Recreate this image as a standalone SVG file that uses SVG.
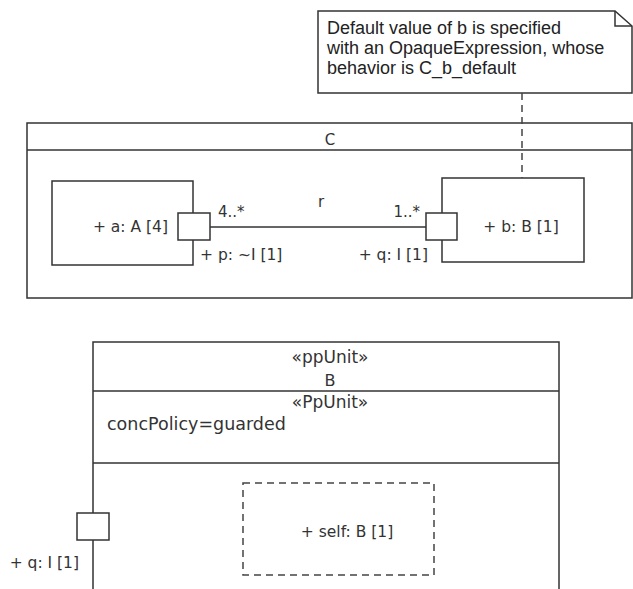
<svg xmlns="http://www.w3.org/2000/svg" width="633" height="589" viewBox="0 0 633 589">
<style>
.ln{fill:none;stroke:#333;stroke-width:1.5}
.bx{fill:#fff;stroke:#333;stroke-width:1.5}
.ds{fill:none;stroke:#444;stroke-width:1.5;stroke-dasharray:7,5}
.t{font-family:"DejaVu Sans",sans-serif;fill:#333}
.n{font-family:"Liberation Sans",Arial,sans-serif;font-size:18px;fill:#222}
</style>
<rect width="633" height="589" fill="#fff"/>
<g id="note">
<path class="bx" d="M318,11 H615 L632,26 V93 H318 Z"/>
<path class="ln" d="M615,11 V26 H632"/>
<text class="n" x="327" y="34">Default value of b is specified</text>
<text class="n" x="327" y="54">with an OpaqueExpression, whose</text>
<text class="n" x="327" y="74">behavior is C_b_default</text>
</g>
<g id="C">
<rect class="bx" x="27" y="123" width="605" height="175"/>
<line class="ln" x1="27" y1="150" x2="632" y2="150"/>
<text class="t" x="330" y="145" font-size="15" text-anchor="middle">C</text>
</g>
<g id="part-a">
<rect class="bx" x="52" y="181" width="141" height="84"/>
<text class="t" x="168" y="232" font-size="15.5" text-anchor="end">+ a: A [4]</text>
</g>
<g id="part-b">
<rect class="bx" x="442" y="178" width="142" height="84"/>
<text class="t" x="521" y="232" font-size="15.5" text-anchor="middle">+ b: B [1]</text>
</g>
<g id="connectors">
<line class="ln" x1="210" y1="227" x2="426" y2="227"/>
<line class="ds" x1="522" y1="93" x2="522" y2="178"/>
<line class="ln" x1="109" y1="527" x2="243" y2="527"/>
<text class="t" x="218" y="217" font-size="15">4..*</text>
<text class="t" x="318" y="207" font-size="15">r</text>
<text class="t" x="420" y="217" font-size="15" text-anchor="end">1..*</text>
</g>
<g id="port-p">
<rect class="bx" x="178" y="213" width="32" height="27"/>
<text class="t" x="200" y="260" font-size="15.5">+ p: ~I [1]</text>
</g>
<g id="port-q">
<rect class="bx" x="426" y="213" width="31" height="27"/>
<text class="t" x="428" y="260" font-size="15.5" text-anchor="end">+ q: I [1]</text>
</g>
<g id="B">
<rect class="bx" x="93" y="342" width="466" height="260"/>
<line class="ln" x1="93" y1="391" x2="559" y2="391"/>
<line class="ln" x1="93" y1="463" x2="559" y2="463"/>
<text class="t" x="330" y="363" font-size="17" text-anchor="middle">«ppUnit»</text>
<text class="t" x="330" y="386" font-size="16" text-anchor="middle">B</text>
<text class="t" x="330" y="408" font-size="17" text-anchor="middle">«PpUnit»</text>
<text class="t" x="107" y="430" font-size="17.5">concPolicy=guarded</text>
</g>
<g id="self">
<rect x="243" y="483" width="191" height="92" class="ds" fill="none"/>
<text class="t" x="347" y="537" font-size="15.5" text-anchor="middle">+ self: B [1]</text>
</g>
<g id="port-q-B">
<rect class="bx" x="77" y="513" width="32" height="27"/>
<text class="t" x="79" y="568" font-size="15.5" text-anchor="end">+ q: I [1]</text>
</g>
</svg>
